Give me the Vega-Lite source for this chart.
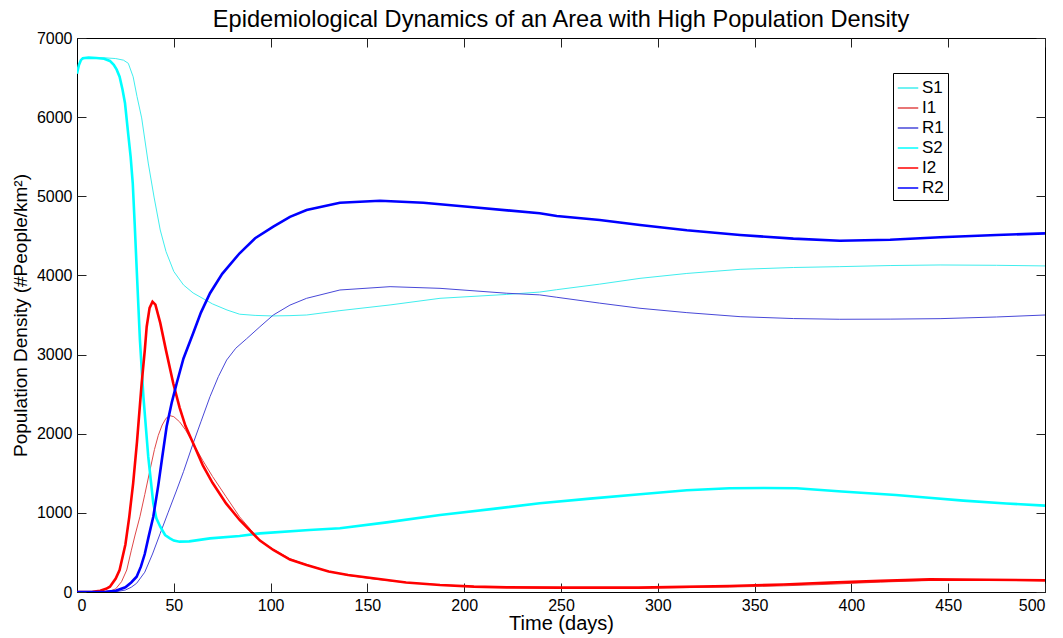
{
  "$schema": "https://vega.github.io/schema/vega-lite/v6.json",
  "width": 968,
  "height": 554,
  "autosize": {"type": "none"},
  "padding": {"left": 77, "top": 38, "right": 18, "bottom": 46},
  "background": "white",
  "title": {"text": "Epidemiological Dynamics of an Area with High Population Density", "font": "Liberation Sans", "fontSize": 23.6, "fontWeight": "normal", "color": "black", "offset": -2},
  "config": {
    "view": {"stroke": "black", "strokeWidth": 1},
    "axis": {"grid": false, "domainColor": "black", "tickColor": "#222222", "tickWidth": 1, "labelColor": "black", "titleColor": "black", "labelFont": "Liberation Sans", "titleFont": "Liberation Sans", "labelFontSize": 16, "titleFontSize": 20, "titleFontWeight": "normal", "format": "d"},
    "legend": {"labelFont": "Liberation Sans", "labelFontSize": 17, "labelColor": "black"}
  },
  "data": {"values": [
    {"s":"S1","t":0,"v":6550},{"s":"S1","t":1,"v":6660},{"s":"S1","t":2,"v":6720},{"s":"S1","t":4,"v":6745},{"s":"S1","t":8,"v":6752},{"s":"S1","t":14,"v":6750},{"s":"S1","t":20,"v":6740},{"s":"S1","t":24,"v":6720},{"s":"S1","t":26.5,"v":6680},{"s":"S1","t":29,"v":6510},{"s":"S1","t":31,"v":6260},{"s":"S1","t":33.4,"v":5990},{"s":"S1","t":36.8,"v":5420},{"s":"S1","t":39.8,"v":4990},{"s":"S1","t":43,"v":4574},{"s":"S1","t":46,"v":4300},{"s":"S1","t":50,"v":4050},{"s":"S1","t":55,"v":3880},{"s":"S1","t":60,"v":3778},{"s":"S1","t":70,"v":3640},{"s":"S1","t":77.5,"v":3563},{"s":"S1","t":84,"v":3510},{"s":"S1","t":92,"v":3495},{"s":"S1","t":101,"v":3488},{"s":"S1","t":110,"v":3492},{"s":"S1","t":118.6,"v":3500},{"s":"S1","t":135.8,"v":3555},{"s":"S1","t":161.7,"v":3627},{"s":"S1","t":187.5,"v":3711},{"s":"S1","t":222,"v":3760},{"s":"S1","t":239,"v":3790},{"s":"S1","t":247.8,"v":3820},{"s":"S1","t":270,"v":3890},{"s":"S1","t":290.8,"v":3963},{"s":"S1","t":315,"v":4025},{"s":"S1","t":342.5,"v":4077},{"s":"S1","t":370,"v":4100},{"s":"S1","t":394,"v":4111},{"s":"S1","t":420,"v":4125},{"s":"S1","t":445.8,"v":4132},{"s":"S1","t":475,"v":4128},{"s":"S1","t":500,"v":4120},
    {"s":"I1","t":0,"v":0},{"s":"I1","t":10,"v":2},{"s":"I1","t":15,"v":8},{"s":"I1","t":18,"v":20},{"s":"I1","t":20,"v":40},{"s":"I1","t":23,"v":130},{"s":"I1","t":25.7,"v":278},{"s":"I1","t":28,"v":520},{"s":"I1","t":30,"v":720},{"s":"I1","t":32.5,"v":951},{"s":"I1","t":35,"v":1230},{"s":"I1","t":37.7,"v":1541},{"s":"I1","t":40,"v":1800},{"s":"I1","t":42,"v":1980},{"s":"I1","t":44,"v":2110},{"s":"I1","t":46,"v":2195},{"s":"I1","t":48,"v":2228},{"s":"I1","t":50,"v":2215},{"s":"I1","t":53,"v":2150},{"s":"I1","t":56,"v":2050},{"s":"I1","t":60,"v":1879},{"s":"I1","t":65,"v":1660},{"s":"I1","t":70,"v":1460},{"s":"I1","t":77,"v":1204},{"s":"I1","t":84,"v":950},{"s":"I1","t":94.5,"v":650},{"s":"I1","t":101.4,"v":540},{"s":"I1","t":110,"v":420},{"s":"I1","t":118.6,"v":345},{"s":"I1","t":130,"v":260},{"s":"I1","t":140,"v":210},{"s":"I1","t":153,"v":165},{"s":"I1","t":170,"v":120},{"s":"I1","t":187.5,"v":92},{"s":"I1","t":205,"v":70},{"s":"I1","t":222,"v":58},{"s":"I1","t":250,"v":48},{"s":"I1","t":290,"v":48},{"s":"I1","t":337,"v":62},{"s":"I1","t":365,"v":78},{"s":"I1","t":389,"v":98},{"s":"I1","t":415,"v":125},{"s":"I1","t":440,"v":145},{"s":"I1","t":470,"v":152},{"s":"I1","t":500,"v":150},
    {"s":"R1","t":0,"v":0},{"s":"R1","t":20,"v":3},{"s":"R1","t":25,"v":25},{"s":"R1","t":28,"v":60},{"s":"R1","t":30.8,"v":110},{"s":"R1","t":35,"v":250},{"s":"R1","t":39,"v":480},{"s":"R1","t":43,"v":741},{"s":"R1","t":47,"v":1000},{"s":"R1","t":51.5,"v":1289},{"s":"R1","t":55,"v":1520},{"s":"R1","t":60,"v":1879},{"s":"R1","t":64,"v":2150},{"s":"R1","t":68.7,"v":2468},{"s":"R1","t":73,"v":2720},{"s":"R1","t":77.3,"v":2931},{"s":"R1","t":82,"v":3080},{"s":"R1","t":87.6,"v":3200},{"s":"R1","t":94.5,"v":3352},{"s":"R1","t":101.4,"v":3500},{"s":"R1","t":110,"v":3625},{"s":"R1","t":118.6,"v":3711},{"s":"R1","t":135.8,"v":3816},{"s":"R1","t":161.7,"v":3858},{"s":"R1","t":187.5,"v":3837},{"s":"R1","t":222,"v":3775},{"s":"R1","t":239,"v":3754},{"s":"R1","t":247.8,"v":3724},{"s":"R1","t":270,"v":3650},{"s":"R1","t":290.8,"v":3585},{"s":"R1","t":315,"v":3530},{"s":"R1","t":342.5,"v":3479},{"s":"R1","t":370,"v":3455},{"s":"R1","t":394,"v":3446},{"s":"R1","t":420,"v":3448},{"s":"R1","t":445.8,"v":3454},{"s":"R1","t":475,"v":3475},{"s":"R1","t":500,"v":3500},
    {"s":"S2","t":0,"v":6550},{"s":"S2","t":1,"v":6660},{"s":"S2","t":2,"v":6720},{"s":"S2","t":3,"v":6745},{"s":"S2","t":6,"v":6752},{"s":"S2","t":10,"v":6748},{"s":"S2","t":14,"v":6738},{"s":"S2","t":17,"v":6710},{"s":"S2","t":19,"v":6660},{"s":"S2","t":20.5,"v":6600},{"s":"S2","t":22,"v":6511},{"s":"S2","t":23.5,"v":6350},{"s":"S2","t":24.8,"v":6175},{"s":"S2","t":26.5,"v":5775},{"s":"S2","t":27.7,"v":5500},{"s":"S2","t":28.8,"v":5164},{"s":"S2","t":29.8,"v":4650},{"s":"S2","t":30.8,"v":4100},{"s":"S2","t":32.5,"v":3184},{"s":"S2","t":34.3,"v":2468},{"s":"S2","t":36.8,"v":1710},{"s":"S2","t":39.4,"v":1121},{"s":"S2","t":41,"v":930},{"s":"S2","t":43,"v":825},{"s":"S2","t":45.5,"v":720},{"s":"S2","t":48,"v":678},{"s":"S2","t":50,"v":650},{"s":"S2","t":53,"v":636},{"s":"S2","t":58,"v":640},{"s":"S2","t":68.7,"v":678},{"s":"S2","t":84,"v":708},{"s":"S2","t":94.5,"v":741},{"s":"S2","t":120,"v":783},{"s":"S2","t":135.8,"v":805},{"s":"S2","t":160,"v":880},{"s":"S2","t":187.5,"v":973},{"s":"S2","t":215,"v":1050},{"s":"S2","t":239,"v":1121},{"s":"S2","t":265,"v":1180},{"s":"S2","t":290.8,"v":1235},{"s":"S2","t":315,"v":1285},{"s":"S2","t":337,"v":1310},{"s":"S2","t":355,"v":1315},{"s":"S2","t":371.7,"v":1310},{"s":"S2","t":395,"v":1270},{"s":"S2","t":423,"v":1226},{"s":"S2","t":440,"v":1190},{"s":"S2","t":457.8,"v":1154},{"s":"S2","t":480,"v":1118},{"s":"S2","t":500,"v":1091},
    {"s":"I2","t":0,"v":0},{"s":"I2","t":8,"v":3},{"s":"I2","t":12,"v":15},{"s":"I2","t":15,"v":40},{"s":"I2","t":17,"v":67},{"s":"I2","t":20,"v":170},{"s":"I2","t":22,"v":278},{"s":"I2","t":25,"v":600},{"s":"I2","t":27,"v":950},{"s":"I2","t":29,"v":1373},{"s":"I2","t":31,"v":1900},{"s":"I2","t":33.4,"v":2637},{"s":"I2","t":35,"v":3050},{"s":"I2","t":36,"v":3352},{"s":"I2","t":37.5,"v":3590},{"s":"I2","t":39,"v":3668},{"s":"I2","t":40.5,"v":3630},{"s":"I2","t":43,"v":3400},{"s":"I2","t":46,"v":3050},{"s":"I2","t":49.7,"v":2637},{"s":"I2","t":53,"v":2330},{"s":"I2","t":56,"v":2100},{"s":"I2","t":60,"v":1879},{"s":"I2","t":65,"v":1600},{"s":"I2","t":70,"v":1380},{"s":"I2","t":77,"v":1120},{"s":"I2","t":84,"v":910},{"s":"I2","t":94.5,"v":650},{"s":"I2","t":101.4,"v":531},{"s":"I2","t":110,"v":410},{"s":"I2","t":118.6,"v":341},{"s":"I2","t":130,"v":260},{"s":"I2","t":140,"v":215},{"s":"I2","t":153,"v":173},{"s":"I2","t":170,"v":120},{"s":"I2","t":187.5,"v":88},{"s":"I2","t":205,"v":68},{"s":"I2","t":222,"v":59},{"s":"I2","t":250,"v":55},{"s":"I2","t":290,"v":55},{"s":"I2","t":337,"v":76},{"s":"I2","t":365,"v":95},{"s":"I2","t":389,"v":118},{"s":"I2","t":415,"v":140},{"s":"I2","t":440.6,"v":160},{"s":"I2","t":470,"v":155},{"s":"I2","t":500,"v":147},
    {"s":"R2","t":0,"v":0},{"s":"R2","t":15,"v":3},{"s":"R2","t":20,"v":15},{"s":"R2","t":25,"v":60},{"s":"R2","t":28,"v":120},{"s":"R2","t":30.8,"v":193},{"s":"R2","t":33,"v":320},{"s":"R2","t":35,"v":480},{"s":"R2","t":37,"v":700},{"s":"R2","t":39.4,"v":951},{"s":"R2","t":42,"v":1350},{"s":"R2","t":44,"v":1700},{"s":"R2","t":46.3,"v":2090},{"s":"R2","t":49,"v":2400},{"s":"R2","t":51.5,"v":2637},{"s":"R2","t":55,"v":2950},{"s":"R2","t":60,"v":3269},{"s":"R2","t":64,"v":3530},{"s":"R2","t":68.7,"v":3775},{"s":"R2","t":75,"v":4020},{"s":"R2","t":84,"v":4280},{"s":"R2","t":92,"v":4470},{"s":"R2","t":101.4,"v":4616},{"s":"R2","t":110,"v":4740},{"s":"R2","t":118.6,"v":4827},{"s":"R2","t":135.8,"v":4919},{"s":"R2","t":156.5,"v":4944},{"s":"R2","t":178.9,"v":4919},{"s":"R2","t":204.7,"v":4861},{"s":"R2","t":239,"v":4785},{"s":"R2","t":247.8,"v":4751},{"s":"R2","t":270,"v":4700},{"s":"R2","t":290.8,"v":4637},{"s":"R2","t":315,"v":4570},{"s":"R2","t":342.5,"v":4511},{"s":"R2","t":370,"v":4465},{"s":"R2","t":394,"v":4439},{"s":"R2","t":420,"v":4450},{"s":"R2","t":445.8,"v":4482},{"s":"R2","t":475,"v":4510},{"s":"R2","t":500,"v":4532}
  ]},
  "layer": [
    {
      "transform": [{"filter": {"field": "s", "oneOf": ["S1", "I1", "R1"]}}],
      "mark": {"type": "line", "strokeWidth": 1, "clip": true},
      "encoding": {
        "x": {"field": "t", "type": "quantitative", "scale": {"domain": [0, 500], "nice": false}, "axis": {"title": "Time (days)", "values": [0,50,100,150,200,250,300,350,400,450,500], "orient": "bottom", "ticks": false, "labelPadding": 5, "titlePadding": 0}},
        "y": {"field": "v", "type": "quantitative", "scale": {"domain": [0, 7000], "nice": false}, "axis": {"title": "Population Density (#People/km²)", "titleFontSize": 19, "values": [0,1000,2000,3000,4000,5000,6000,7000], "orient": "left", "ticks": false, "labelPadding": 5, "titlePadding": 6}},
        "color": {"field": "s", "type": "nominal", "scale": {"domain": ["S1","I1","R1","S2","I2","R2"], "range": ["#40EEEE","#E04848","#4848D8","#00FFFF","#FF0000","#0000FF"]},
          "legend": {"title": null, "orient": "none", "legendX": 816, "legendY": 35, "symbolType": "stroke", "symbolSize": 420, "symbolStrokeWidth": 1.5, "rowPadding": 1, "padding": 4, "strokeColor": "black", "fillColor": "white", "labelOffset": 3}}
      }
    },
    {
      "transform": [{"filter": {"field": "s", "oneOf": ["S2", "I2"]}}],
      "mark": {"type": "line", "strokeWidth": 2.6, "clip": true},
      "encoding": {
        "x": {"field": "t", "type": "quantitative", "axis": {"title": null, "labels": false, "domain": false, "orient": "top", "offset": -9, "tickSize": 9, "values": [0,50,100,150,200,250,300,350,400,450,500]}},
        "y": {"field": "v", "type": "quantitative", "axis": {"title": null, "labels": false, "domain": false, "orient": "right", "offset": -9, "tickSize": 9, "values": [0,1000,2000,3000,4000,5000,6000,7000]}},
        "color": {"field": "s", "type": "nominal"}
      }
    },
    {
      "transform": [{"filter": {"field": "s", "oneOf": ["R2"]}}],
      "mark": {"type": "line", "strokeWidth": 2.6, "clip": true},
      "encoding": {
        "x": {"field": "t", "type": "quantitative", "axis": {"title": null, "labels": false, "domain": false, "orient": "bottom", "offset": -9, "tickSize": 9, "values": [0,50,100,150,200,250,300,350,400,450,500]}},
        "y": {"field": "v", "type": "quantitative", "axis": {"title": null, "labels": false, "domain": false, "orient": "left", "offset": -9, "tickSize": 9, "values": [0,1000,2000,3000,4000,5000,6000,7000]}},
        "color": {"field": "s", "type": "nominal"}
      }
    }
  ],
  "resolve": {"axis": {"x": "independent", "y": "independent"}}
}
